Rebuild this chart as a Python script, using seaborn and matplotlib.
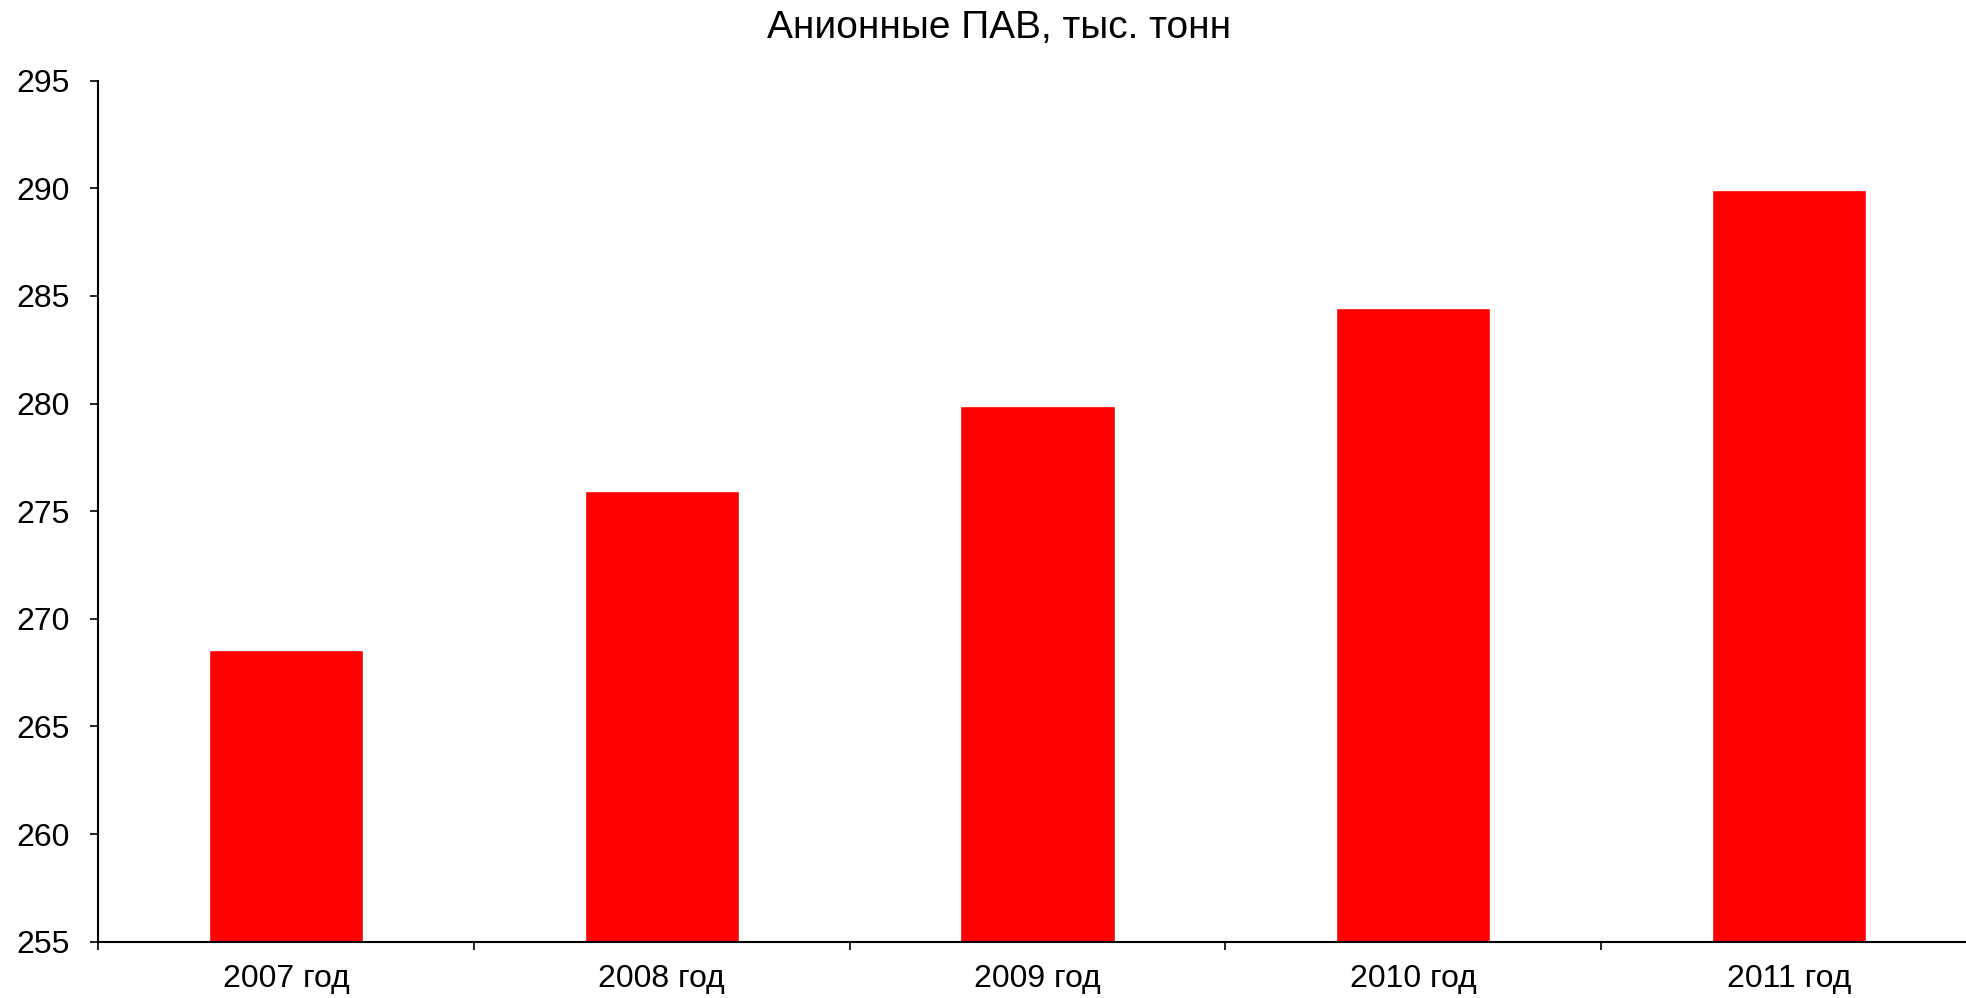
import numpy as np
import pandas as pd
import matplotlib
matplotlib.use('Agg')
import matplotlib.pyplot as plt
import seaborn as sns

# Data
years = ['2007 год', '2008 год', '2009 год', '2010 год', '2011 год']
values = [268.55, 275.95, 279.9, 284.45, 289.92]
y_ticks = [255, 260, 265, 270, 275, 280, 285, 290, 295]
title = 'Анионные ПАВ, тыс. тонн'

df = pd.DataFrame({'year': years, 'value': values})

sns.set_style('white')
plt.rcParams['font.family'] = ['Liberation Sans', 'DejaVu Sans']
plt.rcParams['text.color'] = 'black'
plt.rcParams['xtick.color'] = 'black'
plt.rcParams['ytick.color'] = 'black'

fig = plt.figure(figsize=(19.66, 9.98), dpi=100)
ax = fig.add_axes([98 / 1966, 1 - 941.7 / 998, (1977 - 98) / 1966, (941.7 - 80.7) / 998])

sns.barplot(data=df, x='year', y='value', color='#ff0000', saturation=1,
            width=0.41, ax=ax)

ax.set_ylim(255, 295)
ax.set_xlim(-0.5, len(years) - 0.5)
ax.set_yticks(y_ticks)
ax.set_xlabel('')
ax.set_ylabel('')

# category boundary ticks as minor ticks
ax.set_xticks(np.arange(-0.5, len(years), 1.0), minor=True)
ax.tick_params(axis='x', which='major', length=0, pad=16, labelsize=23, labelcolor='black')
ax.tick_params(axis='x', which='minor', length=6, width=1.2, direction='out', color='black', bottom=True)
ax.tick_params(axis='y', which='major', length=6, width=1.2, direction='out', color='black',
               pad=14, labelsize=23, labelcolor='black', left=True)

for side in ['top', 'right']:
    ax.spines[side].set_visible(False)
for side in ['left', 'bottom']:
    ax.spines[side].set_color('black')
    ax.spines[side].set_linewidth(1.5)

fig.text(999 / 1966, 0.972, title, ha='center', va='center', fontsize=28, color='black')

fig.savefig('out.png', dpi=100)
